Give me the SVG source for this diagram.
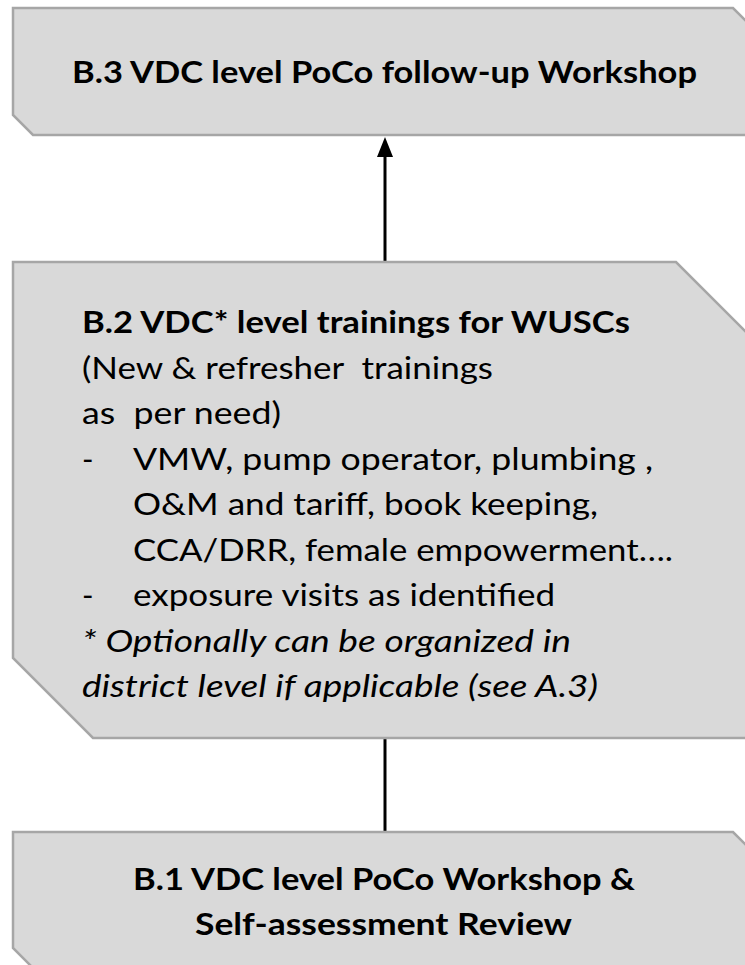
<svg xmlns="http://www.w3.org/2000/svg" width="745" height="965" viewBox="0 0 745 965">
  <defs>
    <style>
      .box { fill: #d9d9d9; stroke: #a6a6a6; stroke-width: 2.5; stroke-linejoin: miter; }
      .t { font-family: Lato, "Liberation Sans", sans-serif; font-size: 31px; fill: #000; white-space: pre; }
      .b { font-weight: bold; }
      .i { font-style: italic; }
      .c { text-anchor: middle; }
      .link { stroke: #000; stroke-width: 3; fill: none; }
    </style>
    <!-- filled triangular arrowhead, tip 15px past the line end -->
    <marker id="arrowHead" viewBox="0 0 20 16" refX="5" refY="8" markerUnits="userSpaceOnUse" markerWidth="20" markerHeight="16" orient="auto">
      <path d="M0,0 L20,8 L0,16 Z" fill="#000"/>
    </marker>
  </defs>

  <!-- connectors -->
  <g id="connectors">
    <line class="link" x1="385" y1="262" x2="385" y2="152" marker-end="url(#arrowHead)"/>
    <line class="link" x1="385" y1="738" x2="385" y2="832"/>
  </g>

  <!-- B.3 follow-up workshop -->
  <g id="node-b3">
    <polygon class="box" points="13,8 733,8 756,31 756,135 33,135 13,115"/>
    <text class="t b c" x="384.5" y="83" textLength="625" lengthAdjust="spacingAndGlyphs">B.3 VDC level PoCo follow-up Workshop</text>
  </g>

  <!-- B.2 trainings -->
  <g id="node-b2">
    <polygon class="box" points="13,262 676,262 756,342 756,738 93,738 13,658"/>
    <text class="t b" x="82" y="333" textLength="548" lengthAdjust="spacingAndGlyphs">B.2 VDC* level trainings for WUSCs</text>
    <text class="t" x="82" y="378.5" textLength="411" lengthAdjust="spacingAndGlyphs">(New &amp; refresher  trainings</text>
    <text class="t" x="82" y="424" textLength="199" lengthAdjust="spacingAndGlyphs">as  per need)</text>
    <text class="t" x="82" y="469.5">-</text>
    <text class="t" x="133" y="469.5" textLength="520" lengthAdjust="spacingAndGlyphs">VMW, pump operator, plumbing ,</text>
    <text class="t" x="133" y="515" textLength="465" lengthAdjust="spacingAndGlyphs">O&amp;M and tariff, book keeping,</text>
    <text class="t" x="133" y="560.5" textLength="540" lengthAdjust="spacingAndGlyphs">CCA/DRR, female empowerment….</text>
    <text class="t" x="82" y="606">-</text>
    <text class="t" x="133" y="606" textLength="422" lengthAdjust="spacingAndGlyphs">exposure visits as identified</text>
    <text class="t i" x="82" y="651.5" textLength="489" lengthAdjust="spacingAndGlyphs">* Optionally can be organized in</text>
    <text class="t i" x="82" y="697" textLength="516" lengthAdjust="spacingAndGlyphs">district level if applicable (see A.3)</text>
  </g>

  <!-- B.1 workshop and review -->
  <g id="node-b1">
    <polygon class="box" points="13,832 733,832 756,855 756,968 33,968 13,948"/>
    <text class="t b c" x="384" y="890" textLength="502" lengthAdjust="spacingAndGlyphs">B.1 VDC level PoCo Workshop &amp;</text>
    <text class="t b c" x="383.5" y="935" textLength="377" lengthAdjust="spacingAndGlyphs">Self-assessment Review</text>
  </g>
</svg>
